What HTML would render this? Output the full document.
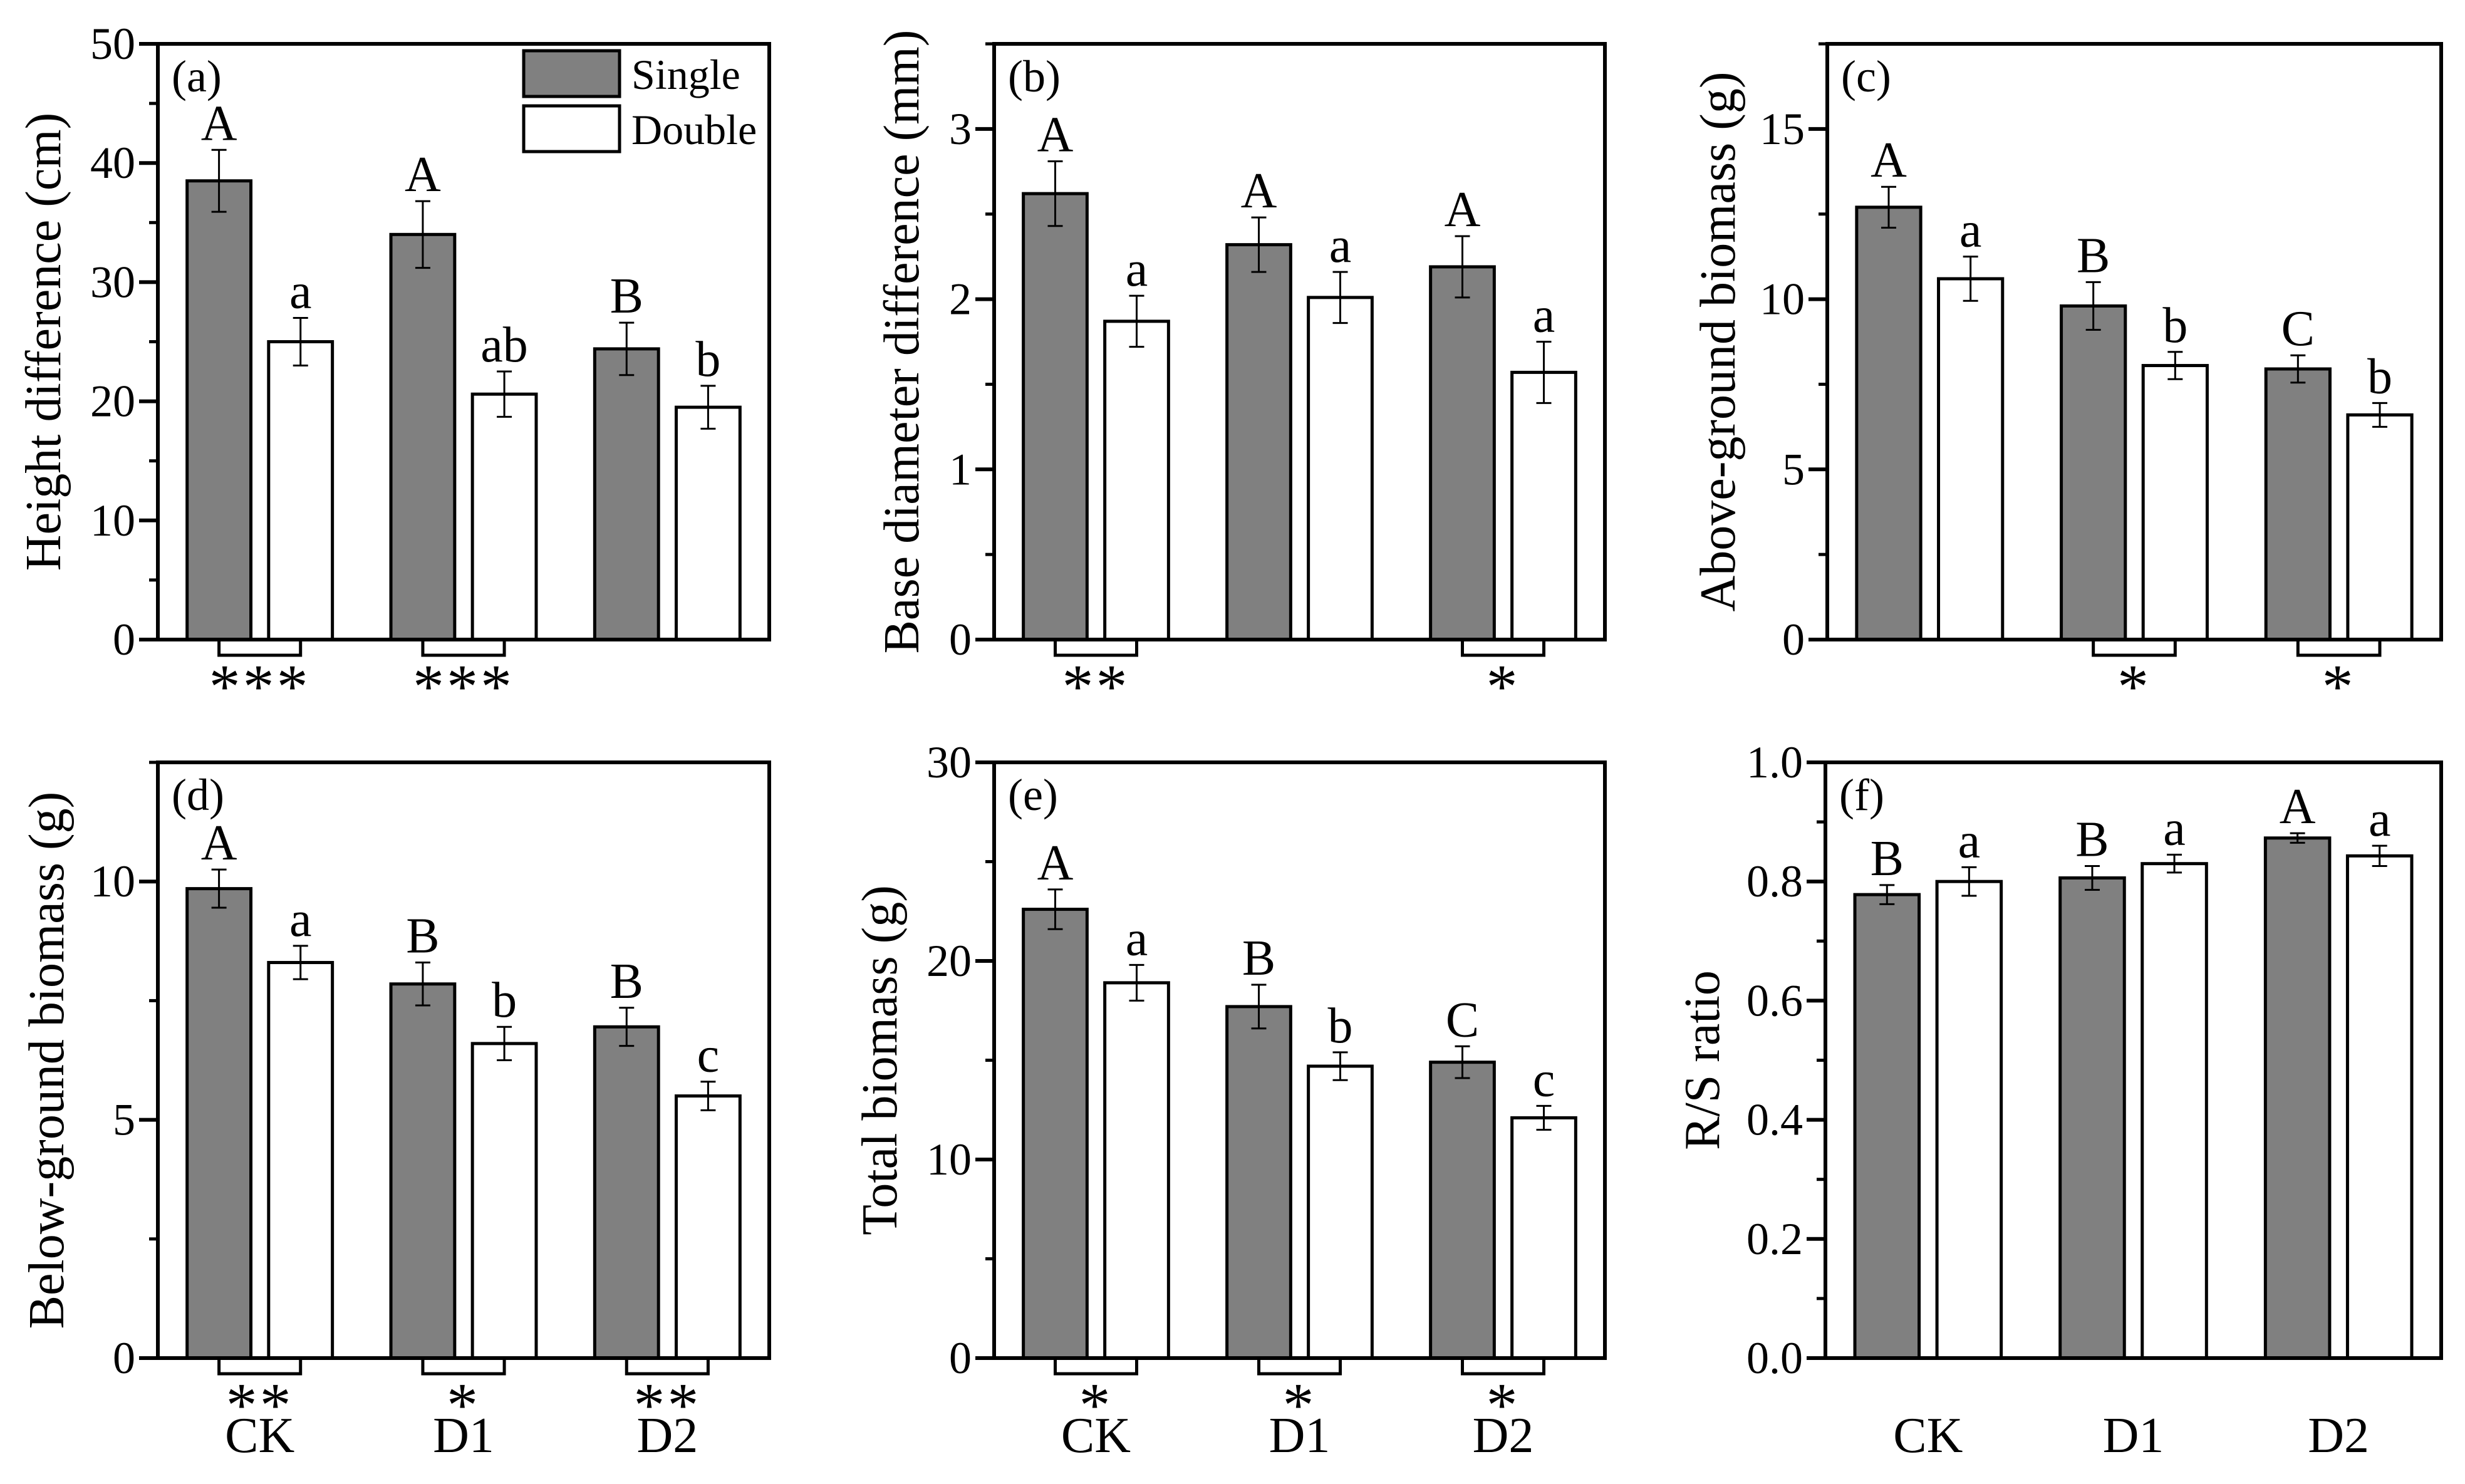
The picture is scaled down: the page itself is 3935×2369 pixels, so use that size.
<!DOCTYPE html>
<html><head><meta charset="utf-8">
<style>
html,body{margin:0;padding:0;background:#fff;}
svg{display:block;font-family:"Liberation Serif","DejaVu Serif",serif;}
</style></head>
<body>
<svg id="fig" width="3935" height="2369" viewBox="0 0 3935 2369" xmlns="http://www.w3.org/2000/svg"></svg>
<script>
// ---- data ----
const categories = ["CK","D1","D2"];
const singleA = [38.5, 34.0, 24.4];   const singleAErr = [2.6, 2.8, 2.2];
const doubleA = [25.0, 20.6, 19.5];   const doubleAErr = [2.0, 1.9, 1.8];
const singleB = [2.62, 2.32, 2.19];   const singleBErr = [0.19, 0.16, 0.18];
const doubleB = [1.87, 2.01, 1.57];   const doubleBErr = [0.15, 0.15, 0.18];
const singleC = [12.7, 9.8, 7.95];    const singleCErr = [0.6, 0.7, 0.4];
const doubleC = [10.6, 8.05, 6.6];    const doubleCErr = [0.65, 0.4, 0.35];
const singleD = [9.85, 7.85, 6.95];   const singleDErr = [0.4, 0.45, 0.4];
const doubleD = [8.3, 6.6, 5.5];      const doubleDErr = [0.35, 0.35, 0.3];
const singleE = [22.6, 17.7, 14.9];   const singleEErr = [1.0, 1.1, 0.8];
const doubleE = [18.9, 14.7, 12.1];   const doubleEErr = [0.9, 0.7, 0.6];
const singleF = [0.778, 0.806, 0.873]; const singleFErr = [0.016, 0.02, 0.008];
const doubleF = [0.800, 0.830, 0.843]; const doubleFErr = [0.024, 0.015, 0.017];
const lettersSingleA = ["A","A","B"]; const lettersDoubleA = ["a","ab","b"];
const lettersSingleB = ["A","A","A"]; const lettersDoubleB = ["a","a","a"];
const lettersSingleC = ["A","B","C"]; const lettersDoubleC = ["a","b","b"];
const lettersSingleD = ["A","B","B"]; const lettersDoubleD = ["a","b","c"];
const lettersSingleE = ["A","B","C"]; const lettersDoubleE = ["a","b","c"];
const lettersSingleF = ["B","B","A"]; const lettersDoubleF = ["a","a","a"];
const starsA = ["***","***",""];
const starsB = ["**","","*"];
const starsC = ["","*","*"];
const starsD = ["**","*","**"];
const starsE = ["*","*","*"];
const starsF = ["","",""];
const ticksA = [0,10,20,30,40,50];
const ticksB = [0,1,2,3];
const ticksC = [0,5,10,15];
const ticksD = [0,5,10];
const ticksE = [0,10,20,30];
const ticksF = [0.0,0.2,0.4,0.6,0.8,1.0];
const tickLabelsF = ["0.0","0.2","0.4","0.6","0.8","1.0"];

const NS="http://www.w3.org/2000/svg";
const svg=document.getElementById('fig');
function mk(tag,attrs,parent){const e=document.createElementNS(NS,tag);for(const k in attrs)e.setAttribute(k,attrs[k]);(parent||svg).appendChild(e);return e;}

const panels=[
 {id:"a",x:252,y:70,w:976,h:951,max:50,minor:5,ticks:ticksA,labels:ticksA.map(String),title:"Height difference (cm)",tx:70,s:singleA,se:singleAErr,d:doubleA,de:doubleAErr,ls:lettersSingleA,ld:lettersDoubleA,st:starsA,xl:false,legend:true},
 {id:"b",x:1587,y:70,w:975,h:951,max:3.5,minor:0.5,ticks:ticksB,labels:ticksB.map(String),title:"Base diameter difference (mm)",tx:1440,s:singleB,se:singleBErr,d:doubleB,de:doubleBErr,ls:lettersSingleB,ld:lettersDoubleB,st:starsB,xl:false},
 {id:"c",x:2917,y:70,w:980,h:951,max:17.5,minor:2.5,ticks:ticksC,labels:ticksC.map(String),title:"Above-ground biomass (g)",tx:2743,s:singleC,se:singleCErr,d:doubleC,de:doubleCErr,ls:lettersSingleC,ld:lettersDoubleC,st:starsC,xl:false},
 {id:"d",x:252,y:1217,w:976,h:951,max:12.5,minor:2.5,ticks:ticksD,labels:ticksD.map(String),title:"Below-ground biomass (g)",tx:75,s:singleD,se:singleDErr,d:doubleD,de:doubleDErr,ls:lettersSingleD,ld:lettersDoubleD,st:starsD,xl:true},
 {id:"e",x:1587,y:1217,w:975,h:951,max:30,minor:5,ticks:ticksE,labels:ticksE.map(String),title:"Total biomass (g)",tx:1405,s:singleE,se:singleEErr,d:doubleE,de:doubleEErr,ls:lettersSingleE,ld:lettersDoubleE,st:starsE,xl:true},
 {id:"f",x:2914,y:1217,w:983,h:951,max:1.0,minor:0.1,ticks:ticksF,labels:tickLabelsF,title:"R/S ratio",tx:2718,s:singleF,se:singleFErr,d:doubleF,de:doubleFErr,ls:lettersSingleF,ld:lettersDoubleF,st:starsF,xl:true}
];

panels.forEach(p=>{
  const g=mk('g',{});
  
  
  const yS=v=>p.y+p.h-(v/p.max)*p.h;
  const xS=v=>p.x+((v-0.5)/3)*p.w;
  const bw=0.313, off=0.2;
  categories.forEach((c,i)=>{
    [[p.s,p.se,p.ls,-off,"#808080","single"],[p.d,p.de,p.ld,off,"#ffffff","double"]].forEach(([vals,errs,lets,o,fill,nm])=>{
      const cx=xS(i+1+o), x0=xS(i+1+o-bw/2), x1=xS(i+1+o+bw/2);
      const top=yS(vals[i]);
      const r=mk('rect',{x:x0,y:top,width:x1-x0,height:p.y+p.h-top,fill:fill,stroke:"#000","stroke-width":5},g);
      
      
      const eh=yS(vals[i]+errs[i]), el=yS(vals[i]-errs[i]);
      const eb=mk('path',{d:`M${cx},${eh}V${el}M${cx-12},${eh}H${cx+12}M${cx-12},${el}H${cx+12}`,stroke:"#000","stroke-width":3,fill:"none"},g);
      
      
      const t=mk('text',{x:cx,y:eh-16,"text-anchor":"middle","font-size":80},g);
      t.textContent=lets[i];
      
      
    });
    if(p.st[i]){
      const bx0=xS(i+1-off), bx1=xS(i+1+off), by=p.y+p.h;
      const br=mk('path',{d:`M${bx0},${by}V${by+25}H${bx1}V${by}`,stroke:"#000","stroke-width":5,fill:"none"},g);
      
      
      const st=mk('text',{x:(bx0+bx1)/2,y:by+108,"text-anchor":"middle","font-size":100,"letter-spacing":"4"},g);
      st.textContent=p.st[i];
      
      
    }
    if(p.xl){
      const xt=mk('text',{x:xS(i+1),y:p.y+p.h+150,"text-anchor":"middle","font-size":80},g);
      xt.textContent=c;
      
      
    }
  });
  const fr=mk('rect',{x:p.x,y:p.y,width:p.w,height:p.h,fill:"none",stroke:"#000","stroke-width":6},g);
  
  
  for(let v=0; v<=p.max+1e-9; v+=p.minor){
    const y=yS(v);
    mk('line',{x1:p.x-14,x2:p.x,y1:y,y2:y,stroke:"#000","stroke-width":5},g);
  }
  p.ticks.forEach((v,k)=>{
    const y=yS(v);
    mk('line',{x1:p.x-30,x2:p.x,y1:y,y2:y,stroke:"#000","stroke-width":6},g);
    const t=mk('text',{x:p.x-36,y:y+24,"text-anchor":"end","font-size":72},g);
    t.textContent=p.labels[k];
    
    
  });
  const cy=p.y+p.h/2;
  const ti=mk('text',{x:p.tx,y:cy,"text-anchor":"middle","font-size":80,transform:`rotate(-90 ${p.tx} ${cy})`,"dominant-baseline":"central"},g);
  ti.textContent=p.title;
  
  
  const pl=mk('text',{x:p.x+22,y:p.y+76,"font-size":72},g);
  pl.textContent='('+p.id+')';
  
  
  if(p.legend){
    const lg=mk('g',{},g);
    
    
    mk('rect',{x:836,y:81,width:153,height:73,fill:"#808080",stroke:"#000","stroke-width":5},lg);
    mk('rect',{x:836,y:169,width:153,height:73,fill:"#fff",stroke:"#000","stroke-width":5},lg);
    const t1=mk('text',{x:1008,y:142,"font-size":68},lg); t1.textContent="Single";
    
    
    const t2=mk('text',{x:1008,y:230,"font-size":68},lg); t2.textContent="Double";
    
    
  }
});
</script>
</body></html>
